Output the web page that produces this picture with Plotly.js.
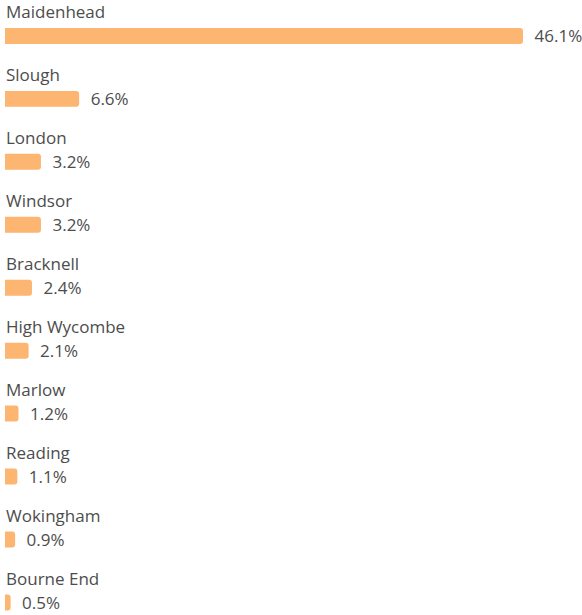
<!DOCTYPE html>
<html>
<head>
<meta charset="utf-8">
<script src="https://cdn.plot.ly/plotly-3.0.1.min.js"></script>
<style>html,body{margin:0;padding:0;background:#fff;}#chart{width:582px;height:615px;}</style>
</head>
<body>
<div id="chart"></div>
<script>
const categories = ["Maidenhead","Slough","London","Windsor","Bracknell","High Wycombe","Marlow","Reading","Wokingham","Bourne End"];
const values = [46.1, 6.6, 3.2, 3.2, 2.4, 2.1, 1.2, 1.1, 0.9, 0.5];

const fontFam = "'Open Sans', 'Noto Sans', sans-serif";
const textColor = "#4d4d4d";

const trace = {
  type: "bar",
  orientation: "h",
  x: values,
  y: categories,
  width: 0.254,
  marker: {color: "#fdb572"},
  text: values.map(v => "\u2002" + v.toFixed(1) + "%"),
  textposition: "outside",
  constraintext: "none",
  cliponaxis: false,
  textfont: {family: fontFam, size: 17, color: textColor},
  hoverinfo: "none"
};

const annotations = categories.map(c => ({
  xref: "paper", yref: "y",
  x: 0, y: c,
  xanchor: "left", yanchor: "middle",
  yshift: 24, xshift: -1,
  text: c, showarrow: false,
  font: {family: fontFam, size: 17, color: textColor}
}));

const layout = {
  width: 582, height: 615,
  margin: {l: 5, r: 0, t: 0, b: 0, pad: 0},
  paper_bgcolor: "#fff", plot_bgcolor: "#fff",
  barcornerradius: 3,
  showlegend: false,
  xaxis: {range: [0, 51.35], visible: false, fixedrange: true},
  yaxis: {type: "category", categoryarray: categories, range: [9.2, -0.571], visible: false, fixedrange: true},
  annotations: annotations
};

Plotly.newPlot("chart", [trace], layout, {displayModeBar: false, staticPlot: true});
</script>
</body>
</html>
